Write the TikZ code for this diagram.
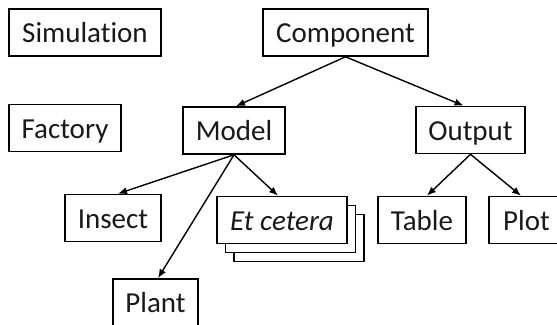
\documentclass[tikz,border=0pt]{standalone}
\usepackage{fontspec}
\setmainfont{Carlito}[Ligatures=NoCommon]
\usetikzlibrary{arrows.meta,shadows}

\begin{document}
\begin{tikzpicture}[x=0.5pt,y=-0.5pt,
  box/.style={draw,line width=0.8pt,fill=white,inner sep=0pt,minimum height=23.5pt,
    text height=12pt,text depth=1.5pt,font=\fontsize{14.5}{17}\selectfont,text=black!90},
  arr/.style={-{Latex[length=4.5pt,width=3.6pt]},line width=0.7pt}]
  \useasboundingbox (0,0) rectangle (557,325);
  \clip (0,0) rectangle (557,325);
  \node[box,minimum width=76pt] (sim) at (85,32.5) {Simulation};
  \node[box,minimum width=82.5pt] (comp) at (345.5,32.5) {Component};
  \node[box,minimum width=56pt] (fact) at (65,128) {Factory};
  \node[box,minimum width=51pt] (model) at (234,130.5) {Model};
  \node[box,minimum width=54.5pt] (out) at (470.5,130) {Output};
  \node[box,minimum width=48pt] (insect) at (113,218) {Insect};
  \node[box,minimum width=42.5pt] (plant) at (155.5,302.5) {Plant};
  \node[box,minimum width=65pt,double copy shadow={shadow xshift=4.25pt,shadow yshift=-4.5pt,line width=0.8pt}] (etc) at (282,220) {\itshape Et cetera};
  \node[box,minimum width=44pt] (table) at (422,220) {Table};
  \node[box,minimum width=37.5pt] (plot) at (526.5,220) {Plot};
  \draw[arr] (comp.south) -- ([xshift=1pt]model.north);
  \draw[arr] (comp.south) -- ([xshift=-3.5pt]out.north);
  \draw[arr] (model.south) -- ([xshift=2.5pt]insect.north);
  \draw[arr] (model.south) -- ([xshift=1.25pt]plant.north);
  \draw[arr] (model.south) -- ([xshift=-2pt]etc.north);
  \draw[arr] (out.south) -- ([xshift=2.5pt]table.north);
  \draw[arr] (out.south) -- ([xshift=-2.75pt]plot.north);
\end{tikzpicture}
\end{document}
